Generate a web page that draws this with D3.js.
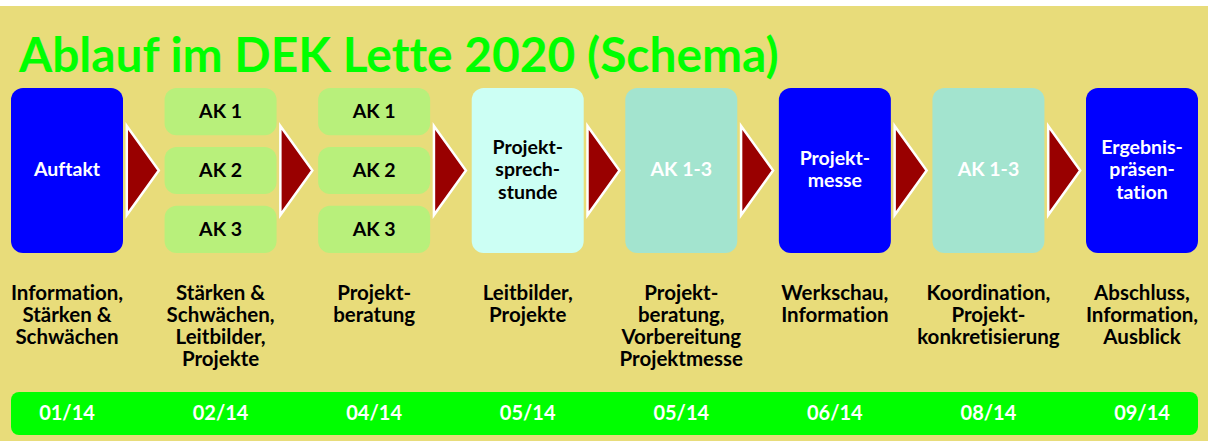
<!DOCTYPE html>
<html>
<head>
<meta charset="utf-8">
<script src="https://cdn.jsdelivr.net/npm/d3@7"></script>
<style>
  body { margin: 0; background: #fff; }
  svg { display: block; font-family: Lato, "Open Sans", sans-serif; font-variant-ligatures: none; }
</style>
</head>
<body>
<div id="chart"></div>
<script>
let width = 1208;
let height = 441;

let title = "Ablauf im DEK Lette 2020 (Schema)";

// one entry per step, left to right
let steps = ["auftakt", "ak", "ak2", "sprech", "ak13a", "messe", "ak13b", "ergebnis"];
let box_labels = [
  ["Auftakt"],
  null,
  null,
  ["Projekt-", "sprech-", "stunde"],
  ["AK 1-3"],
  ["Projekt-", "messe"],
  ["AK 1-3"],
  ["Ergebnis-", "präsen-", "tation"]
];
let box_kinds = ["main", "split", "split", "light", "group", "main", "group", "main"];
let split_labels = ["AK 1", "AK 2", "AK 3"];
let descriptions = [
  ["Information,", "Stärken &", "Schwächen"],
  ["Stärken &", "Schwächen,", "Leitbilder,", "Projekte"],
  ["Projekt-", "beratung"],
  ["Leitbilder,", "Projekte"],
  ["Projekt-", "beratung,", "Vorbereitung", "Projektmesse"],
  ["Werkschau,", "Information"],
  ["Koordination,", "Projekt-", "konkretisierung"],
  ["Abschluss,", "Information,", "Ausblick"]
];
let dates = ["01/14", "02/14", "04/14", "05/14", "05/14", "06/14", "08/14", "09/14"];

let fills = {main: "#0000ff", split: "#b8f07b", light: "#ccfff4", group: "#a3e4cf"};
let text_fills = {main: "#ffffff", split: "#000000", light: "#000000", group: "#ffffff"};

let box_w = 112;
let box_top = 88, box_bottom = 253;

let svg = d3.select("#chart")
            .append("svg")
            .attr("width", width)
            .attr("height", height);

svg.append("rect")
   .attr("x", 0).attr("y", 6)
   .attr("width", width).attr("height", height - 6)
   .style("fill", "#e8dc7a");

let x = d3.scalePoint()
          .domain(d3.range(steps.length))
          .range([67, 1142]);

// title, fitted to its width in the reference
let t = svg.append("text")
   .attr("x", 19)
   .attr("y", 72)
   .style("font-size", "46px")
   .style("font-weight", 700)
   .style("fill", "#00ff00")
   .text(title);
let tw = t.node().getComputedTextLength();
t.style("font-size", (46 * 760 / tw) + "px");

// arrows between steps
let arrows = d3.range(steps.length - 1);
svg.selectAll(".arrow")
   .data(arrows)
   .enter()
   .append("path")
   .attr("class", "arrow")
   .attr("d", function(i) {
     let cx = (x(i) + x(i + 1)) / 2 - 1;
     return "M" + (cx - 16) + "," + 126 + "L" + (cx + 16) + "," + 170.5 + "L" + (cx - 16) + "," + 215 + "Z";
   })
   .style("fill", "#990000")
   .style("stroke", "#ffffff")
   .style("stroke-width", 2.5);

let step_g = svg.selectAll(".step")
   .data(steps)
   .enter()
   .append("g")
   .attr("class", "step")
   .attr("transform", function(d, i) { return "translate(" + x(i) + ",0)"; });

step_g.each(function(d, i) {
  let g = d3.select(this);
  let kind = box_kinds[i];
  if (kind === "split") {
    let small = d3.scaleBand()
                  .domain(split_labels)
                  .range([box_top, box_bottom])
                  .paddingInner(0.2);
    g.selectAll("rect")
     .data(split_labels)
     .enter()
     .append("rect")
     .attr("x", -box_w / 2)
     .attr("y", function(s) { return small(s); })
     .attr("width", box_w)
     .attr("height", small.bandwidth())
     .attr("rx", 12)
     .style("fill", fills[kind]);
    g.selectAll("text.ak")
     .data(split_labels)
     .enter()
     .append("text")
     .attr("class", "ak")
     .attr("y", function(s) { return small(s) + small.bandwidth() / 2; })
     .attr("dy", "0.35em")
     .attr("text-anchor", "middle")
     .style("font-size", "19.5px")
     .style("font-weight", 700)
     .style("fill", text_fills[kind])
     .text(function(s) { return s; });
  } else {
    g.append("rect")
     .attr("x", -box_w / 2)
     .attr("y", box_top)
     .attr("width", box_w)
     .attr("height", box_bottom - box_top)
     .attr("rx", 12)
     .style("fill", fills[kind]);
    let lines = box_labels[i];
    let y0 = 169.5 - (lines.length - 1) * 22.3 / 2;
    g.selectAll("text.lbl")
     .data(lines)
     .enter()
     .append("text")
     .attr("class", "lbl")
     .attr("y", function(s, j) { return y0 + j * 22.3; })
     .attr("dy", "0.35em")
     .attr("text-anchor", "middle")
     .style("font-size", "19.5px")
     .style("font-weight", 700)
     .style("fill", text_fills[kind])
     .text(function(s) { return s; });
  }

  g.selectAll("text.desc")
   .data(descriptions[i])
   .enter()
   .append("text")
   .attr("class", "desc")
   .attr("y", function(s, j) { return 293 + j * 22; })
   .attr("dy", "0.35em")
   .attr("text-anchor", "middle")
   .style("font-size", "20.5px")
   .style("font-weight", 700)
   .style("fill", "#000")
   .text(function(s) { return s; });
});

// date bar
svg.append("rect")
   .attr("x", 11).attr("y", 392)
   .attr("width", 1187).attr("height", 43)
   .attr("rx", 8)
   .style("fill", "#00ff00");

svg.selectAll(".date")
   .data(dates)
   .enter()
   .append("text")
   .attr("class", "date")
   .attr("x", function(d, i) { return x(i); })
   .attr("y", 413)
   .attr("dy", "0.35em")
   .attr("text-anchor", "middle")
   .style("font-size", "20px")
   .style("font-weight", 700)
   .style("fill", "#fff")
   .text(function(d) { return d; });
</script>
</body>
</html>
